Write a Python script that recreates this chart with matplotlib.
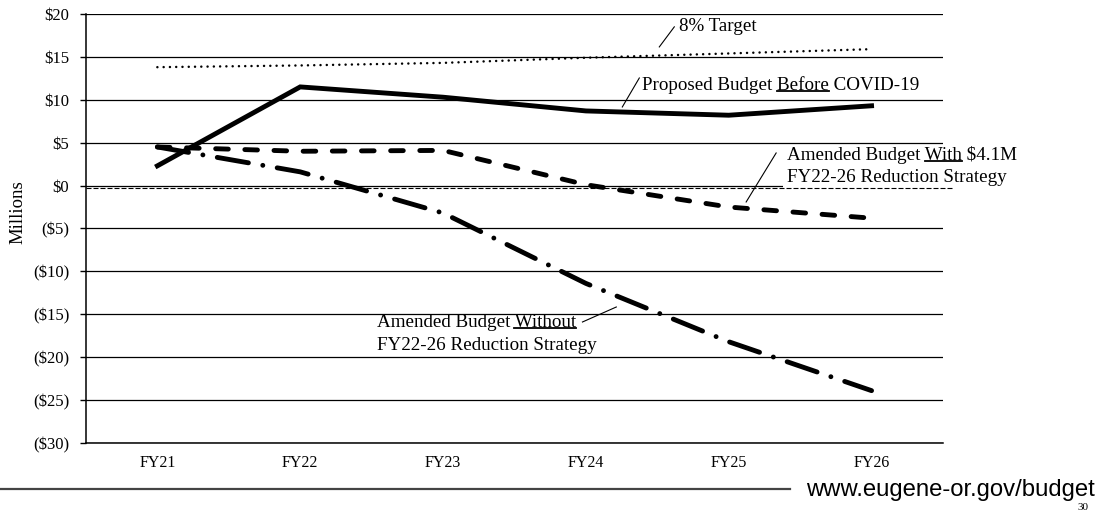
import matplotlib
matplotlib.use("Agg")
import matplotlib.pyplot as plt
from matplotlib.lines import Line2D

plt.rcParams['font.family'] = ['Liberation Serif', 'DejaVu Serif']

# data ($ millions)
years = ["FY21", "FY22", "FY23", "FY24", "FY25", "FY26"]
target_8pct = [13.8, 14.0, 14.3, 14.9, 15.4, 15.9]
proposed_before_covid = [2.3, 11.5, 10.3, 8.7, 8.2, 9.3]
amended_with_strategy = [4.5, 4.0, 4.1, 0.1, -2.5, -3.8]
amended_without_strategy = [4.5, 1.6, -3.2, -11.4, -18.2, -23.9]
zero_ref = -0.3
y_ticks = [20, 15, 10, 5, 0, -5, -10, -15, -20, -25, -30]
y_labels = ["$20", "$15", "$10", "$5", "$0", "($5)", "($10)", "($15)", "($20)", "($25)", "($30)"]

fig = plt.figure(figsize=(11.09, 5.12), dpi=100)
ax = fig.add_axes([0.0775, 0.1348, 0.7728, 0.8379])
x = list(range(len(years)))

ax.set_xlim(-0.5, 5.5)
ax.set_ylim(-30, 20)
ax.set_yticks(y_ticks)
ax.set_yticklabels(y_labels, fontsize=12)
ax.set_xticks(x)
ax.set_xticklabels(years, fontsize=11.5)
ax.tick_params(axis='x', length=0, pad=9)
ax.tick_params(axis='y', length=4, width=1, direction='out', pad=8)
for s in ['top', 'right']:
    ax.spines[s].set_visible(False)
ax.spines['left'].set_linewidth(1.1)
ax.spines['bottom'].set_linewidth(1.1)
for v in y_ticks:
    ax.axhline(v, color='black', lw=0.9, zorder=1)

ax.axhline(zero_ref, xmax=1.01, color='black', lw=0.8, dashes=(4.5, 1.8),
           zorder=6, clip_on=False)

ax.plot(x, target_8pct, color='black', lw=1.8, dashes=(0.01, 2.5),
        dash_capstyle='round', zorder=4)
ax.plot(x, proposed_before_covid, color='black', lw=3.5, zorder=4,
        solid_joinstyle='miter')
ax.plot(x, amended_with_strategy, color='black', lw=3.5, dashes=(2.6, 3.4),
        dash_capstyle='round', zorder=4)
ax.plot(x, amended_without_strategy, color='black', lw=3.5,
        dashes=(6.5, 3.0, 0.01, 3.0), dash_capstyle='round', zorder=4)

fig.text(18 / 1109, 1 - 212 / 512, "Millions", fontsize=13.5, rotation=90,
         ha='center', va='center')

fs = 13.7
labels = []


def label(xp, yp, s, under=None, box=False):
    kw = dict(fontsize=fs, ha='left', va='center', zorder=5.5)
    if box:
        kw['bbox'] = dict(facecolor='white', edgecolor='none', pad=3)
        kw['zorder'] = 5
    t = ax.text(xp, yp, s, **kw)
    labels.append((t, s, under))
    return t


label(3.654, 18.5, "8% Target")
ax.plot([3.619, 3.514], [18.5, 16.16], color='black', lw=0.8, zorder=5)
label(3.395, 11.72, "Proposed Budget Before COVID-19", under="Before")
ax.plot([3.374, 3.255], [12.54, 9.16], color='black', lw=0.8, zorder=5)
label(4.409, 3.57, "Amended Budget With $4.1M", under="With")
label(4.409, 0.95, "FY22-26 Reduction Strategy", box=True)
ax.plot([4.332, 4.122], [3.80, -1.91], color='black', lw=0.8, zorder=7)
label(1.535, -15.9, "Amended Budget Without", under="Without")
label(1.535, -18.6, "FY22-26 Reduction Strategy")
ax.plot([2.976, 3.213], [-15.9, -14.15], color='black', lw=0.8, zorder=5)

# underline words
fig.canvas.draw()
r = fig.canvas.get_renderer()
for t, s, under in labels:
    if not under:
        continue
    i = s.index(under) + len(under)
    tmp = ax.text(*t.get_position(), s[:i], fontsize=fs, ha='left', va='center')
    w = ax.text(*t.get_position(), under, fontsize=fs, ha='left', va='center')
    bb = tmp.get_window_extent(r)
    ww = w.get_window_extent(r).width
    tmp.remove()
    w.remove()
    yb = bb.y0 + 2.5
    p0 = fig.transFigure.inverted().transform((bb.x1 - ww, yb))
    p1 = fig.transFigure.inverted().transform((bb.x1, yb))
    fig.add_artist(Line2D([p0[0], p1[0]], [p0[1], p1[1]], color='black', lw=1.3))

# footer
fig.add_artist(Line2D([0, 0.712], [0.0449, 0.0449], color='#444444', lw=1.6))
fig.text(0.727, 0.0430, "www.eugene-or.gov/budget", fontsize=17.2,
         family='Liberation Sans', ha='left', va='center')
fig.text(0.977, 0.0, "30", fontsize=8, ha='center', va='bottom')

fig.savefig("out.png", dpi=100)
